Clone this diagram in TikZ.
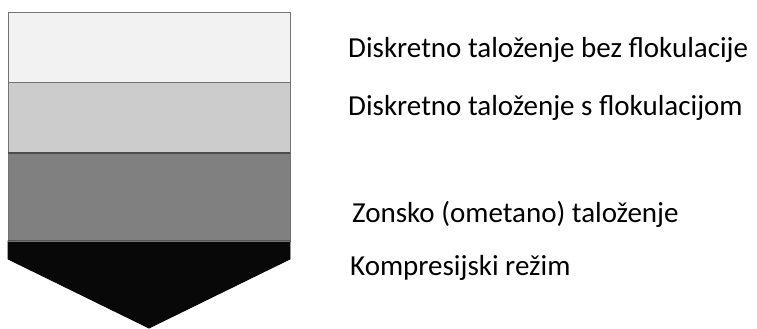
\documentclass[tikz,border=0pt]{standalone}
\usepackage{fontspec}
\setmainfont{Carlito}
\usepackage{tikz}
\usetikzlibrary{positioning}
\definecolor{bandone}{HTML}{F2F2F2}
\definecolor{bandtwo}{HTML}{CCCCCC}
\definecolor{bandthree}{HTML}{808080}
\definecolor{bandfour}{HTML}{080808}
\tikzset{
    band/.style = {draw=black!55, line width=0.9pt},
    zone/.style = {anchor=base west, inner sep=0pt, font=\fontsize{29}{34}\selectfont}
}
\begin{document}
\begin{tikzpicture}[x=1pt, y=-1pt]
    \useasboundingbox (0,0) rectangle (757,329);

    \draw [band, fill=bandone] (8,12) rectangle (290,82);
    \draw [band, fill=bandtwo] (8,82) rectangle (290,153);
    \draw [band, fill=bandthree] (8,153) rectangle (290,241);
    \draw [band, fill=bandfour, draw=bandfour] (8,241) -- (290,241) -- (290,259) -- (149,328) -- (8,259) -- cycle;
    \draw [black!70, line width=1.2pt] (8,153) -- (290,153);
    \draw [black!55, line width=0.9pt] (8,241) -- (290,241);

    \node [zone] (bez) at (348,58) {Diskretno taloženje bez flokulacije};
    \node [zone] (sflok) at (348,115) {Diskretno taloženje s flokulacijom};
    \node [zone] (zonsko) at (352,222) {Zonsko (ometano) taloženje};
    \node [zone] (kompr) at (350,275) {Kompresijski režim};
\end{tikzpicture}
\end{document}
